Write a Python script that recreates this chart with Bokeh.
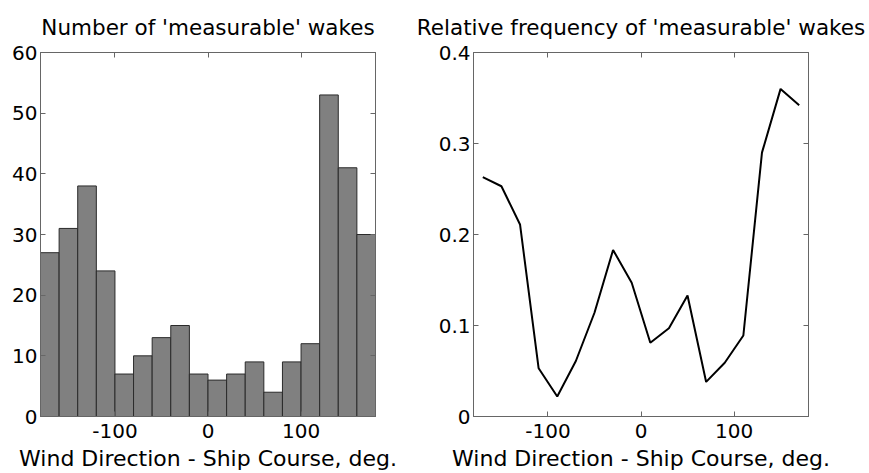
from bokeh.plotting import figure
from bokeh.layouts import row
from bokeh.models import LinearAxis, FixedTicker, Range1d
from bokeh.embed import file_html
from bokeh.resources import INLINE

# ---- data ----
bin_centers = [-170, -150, -130, -110, -90, -70, -50, -30, -10,
               10, 30, 50, 70, 90, 110, 130, 150, 170]
counts = [27, 31, 38, 24, 7, 10, 13, 15, 7, 6, 7, 9, 4, 9, 12, 53, 41, 30]
rel_freq = [0.263, 0.253, 0.211, 0.053, 0.022, 0.061, 0.114, 0.183, 0.147,
            0.081, 0.097, 0.133, 0.038, 0.059, 0.089, 0.290, 0.360, 0.342]
bin_width = 20
x_ticks = [-100, 0, 100]
x_tick_labels = {-100: "-100", 0: "0", 100: "100"}
count_ticks = [0, 10, 20, 30, 40, 50, 60]
freq_ticks = [0, 0.1, 0.2, 0.3, 0.4]
freq_tick_labels = {0: "0", 0.1: "0.1", 0.2: "0.2", 0.3: "0.3", 0.4: "0.4"}
x_label = "Wind Direction - Ship Course, deg."
title_left = "Number of 'measurable' wakes"
title_right = "Relative frequency of 'measurable' wakes"

FONT = "DejaVu Sans"
AX_COLOR = "#666666"


def style(p, yticks, title):
    p.title.text = title
    p.title.align = "center"
    p.title.text_font = FONT
    p.title.text_font_size = "21.5px"
    p.title.text_font_style = "normal"
    p.title.text_color = "black"
    p.title.standoff = 25
    p.xgrid.visible = False
    p.ygrid.visible = False
    p.outline_line_color = AX_COLOR
    p.xaxis.ticker = FixedTicker(ticks=x_ticks)
    p.yaxis.ticker = FixedTicker(ticks=yticks)
    p.xaxis.major_label_overrides = x_tick_labels
    p.xaxis.axis_label = x_label
    for ax in p.xaxis + p.yaxis:
        ax.major_tick_in = 5
        ax.major_tick_out = 0
        ax.minor_tick_line_color = None
        ax.axis_line_color = AX_COLOR
        ax.major_tick_line_color = AX_COLOR
        ax.major_label_text_font = FONT
        ax.major_label_text_font_size = "20px"
        ax.major_label_text_color = "black"
        ax.axis_label_text_font = FONT
        ax.axis_label_text_font_size = "22px"
        ax.axis_label_text_font_style = "normal"
        ax.axis_label_text_color = "black"
        ax.axis_label_standoff = 0
    p.xaxis.major_label_standoff = 7
    p.xaxis.axis_label_standoff = 5
    p.yaxis.major_label_standoff = 3
    # ticks on the opposite sides (box on), no labels
    for loc, ticks in (("right", yticks), ("above", x_ticks)):
        ax = LinearAxis(ticker=FixedTicker(ticks=ticks),
                        major_label_text_font_size="0px",
                        major_label_text_color=None,
                        major_label_standoff=0,
                        major_tick_in=5, major_tick_out=0,
                        minor_tick_line_color=None,
                        axis_line_color=AX_COLOR,
                        major_tick_line_color=AX_COLOR)
        p.add_layout(ax, loc)


p1 = figure(width=405, height=473, output_backend="svg", toolbar_location=None,
            x_range=Range1d(-180, 180), y_range=Range1d(0, 60),
            min_border_left=40, min_border_right=30,
            min_border_top=51, min_border_bottom=57)
p1.vbar(x=bin_centers, top=counts, width=bin_width, bottom=0,
        fill_color="#808080", line_color="#2a2a2a", line_width=1)
style(p1, count_ticks, title_left)

p2 = figure(width=464, height=473, output_backend="svg", toolbar_location=None,
            x_range=Range1d(-180, 180), y_range=Range1d(0, 0.4),
            min_border_left=68, min_border_right=61,
            min_border_top=51, min_border_bottom=57)
p2.line(bin_centers, rel_freq, line_color="black", line_width=2)
style(p2, freq_ticks, title_right)
p2.yaxis[0].major_label_overrides = freq_tick_labels

layout = row(p1, p2)
open("out.html", "w").write(file_html(layout, INLINE))
